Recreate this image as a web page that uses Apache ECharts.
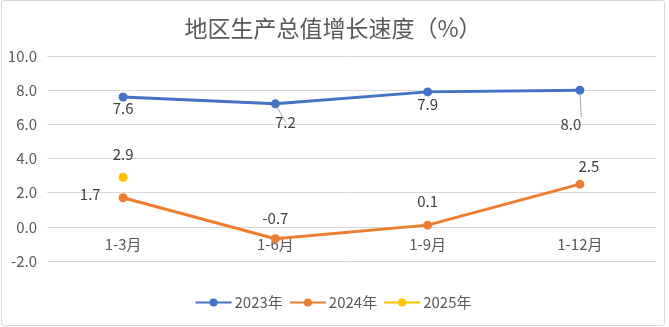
<!DOCTYPE html>
<html><head><meta charset="utf-8">
<script src="https://cdn.jsdelivr.net/npm/echarts@6/dist/echarts.min.js"></script>
<style>
html,body{margin:0;padding:0;background:#fff;}
#c{position:absolute;left:1px;top:0px;width:662px;height:324px;border:1px solid #d9d9d9;border-radius:3px;}
</style></head>
<body><div id="c"></div>
<script>
const categories = ['1-3月','1-6月','1-9月','1-12月'];
const s2023 = [7.6, 7.2, 7.9, 8.0];
const s2024 = [1.7, -0.7, 0.1, 2.5];
const s2025 = [2.9, null, null, null];
const seriesNames = ['2023年','2024年','2025年'];
const yTicks = {min:-2, max:10, interval:2};

const font = '"Noto Sans CJK SC","Noto Sans",sans-serif';
const chart = echarts.init(document.getElementById('c'));

// label placement per point: [position, dx, dy, leader line]
const lab2023 = [['bottom',0,-2,false],['bottom',10,5,true],['bottom',0,-1,false],['bottom',-9,21,true]];
const lab2024 = [['left',-10,-3,true],['top',0,0,false],['top',0,-4,false],['top',9,2,false]];
const lab2025 = [['top',0,-3,false],['top',0,0,false],['top',0,0,false],['top',0,0,false]];

function mk(vals, cfg){
  return vals.map((v,i)=>{
    const c = cfg[i];
    return {value:v, label:{position:c[0], offset:[c[1],c[2]]}, labelLine:{show:c[3]}};
  });
}
const fmt = p => (p.value==null ? '' : Number(p.value).toFixed(1));

chart.setOption({
  animation:false,
  title:{text:'地区生产总值增长速度（%）', left:'center', top:11,
    textStyle:{fontFamily:font, fontSize:23, fontWeight:'normal', color:'#595959'}},
  grid:{left:45, right:8, top:55, bottom:64},
  legend:{bottom:10, left:'center', itemWidth:36, itemHeight:10, itemGap:6,
    textStyle:{fontFamily:font, fontSize:15, color:'#595959', padding:[0,0,0,-2]},
    data:seriesNames},
  xAxis:{type:'category', data:categories, boundaryGap:true, offset:-34,
    axisLine:{show:false, onZero:false}, axisTick:{show:false},
    axisLabel:{margin:10, fontFamily:font, fontSize:15, color:'#595959'}},
  yAxis:{type:'value', min:yTicks.min, max:yTicks.max, interval:yTicks.interval,
    axisLine:{show:false}, axisTick:{show:false},
    splitLine:{lineStyle:{color:'#d9d9d9', width:1}},
    axisLabel:{margin:10, fontFamily:font, fontSize:15, color:'#595959',
      formatter:v=>v.toFixed(1)}},
  series:[
    {name:seriesNames[0], type:'line', data:mk(s2023, lab2023), symbol:'circle', symbolSize:9,
      lineStyle:{width:3, color:'#4472C4'}, itemStyle:{color:'#4472C4'},
      label:{show:true, distance:1, fontFamily:font, fontSize:15, color:'#404040', formatter:fmt},
      labelLine:{lineStyle:{color:'#a6a6a6', width:1}}},
    {name:seriesNames[1], type:'line', data:mk(s2024, lab2024), symbol:'circle', symbolSize:9,
      lineStyle:{width:3, color:'#ED7D31'}, itemStyle:{color:'#ED7D31'},
      label:{show:true, distance:8, fontFamily:font, fontSize:15, color:'#404040', formatter:fmt},
      labelLine:{lineStyle:{color:'#a6a6a6', width:1}}},
    {name:seriesNames[2], type:'line', data:mk(s2025, lab2025), symbol:'circle', symbolSize:9,
      lineStyle:{width:3, color:'#FFC000'}, itemStyle:{color:'#FFC000'},
      label:{show:true, distance:8, fontFamily:font, fontSize:15, color:'#404040', formatter:fmt}}
  ]
});
</script></body></html>
